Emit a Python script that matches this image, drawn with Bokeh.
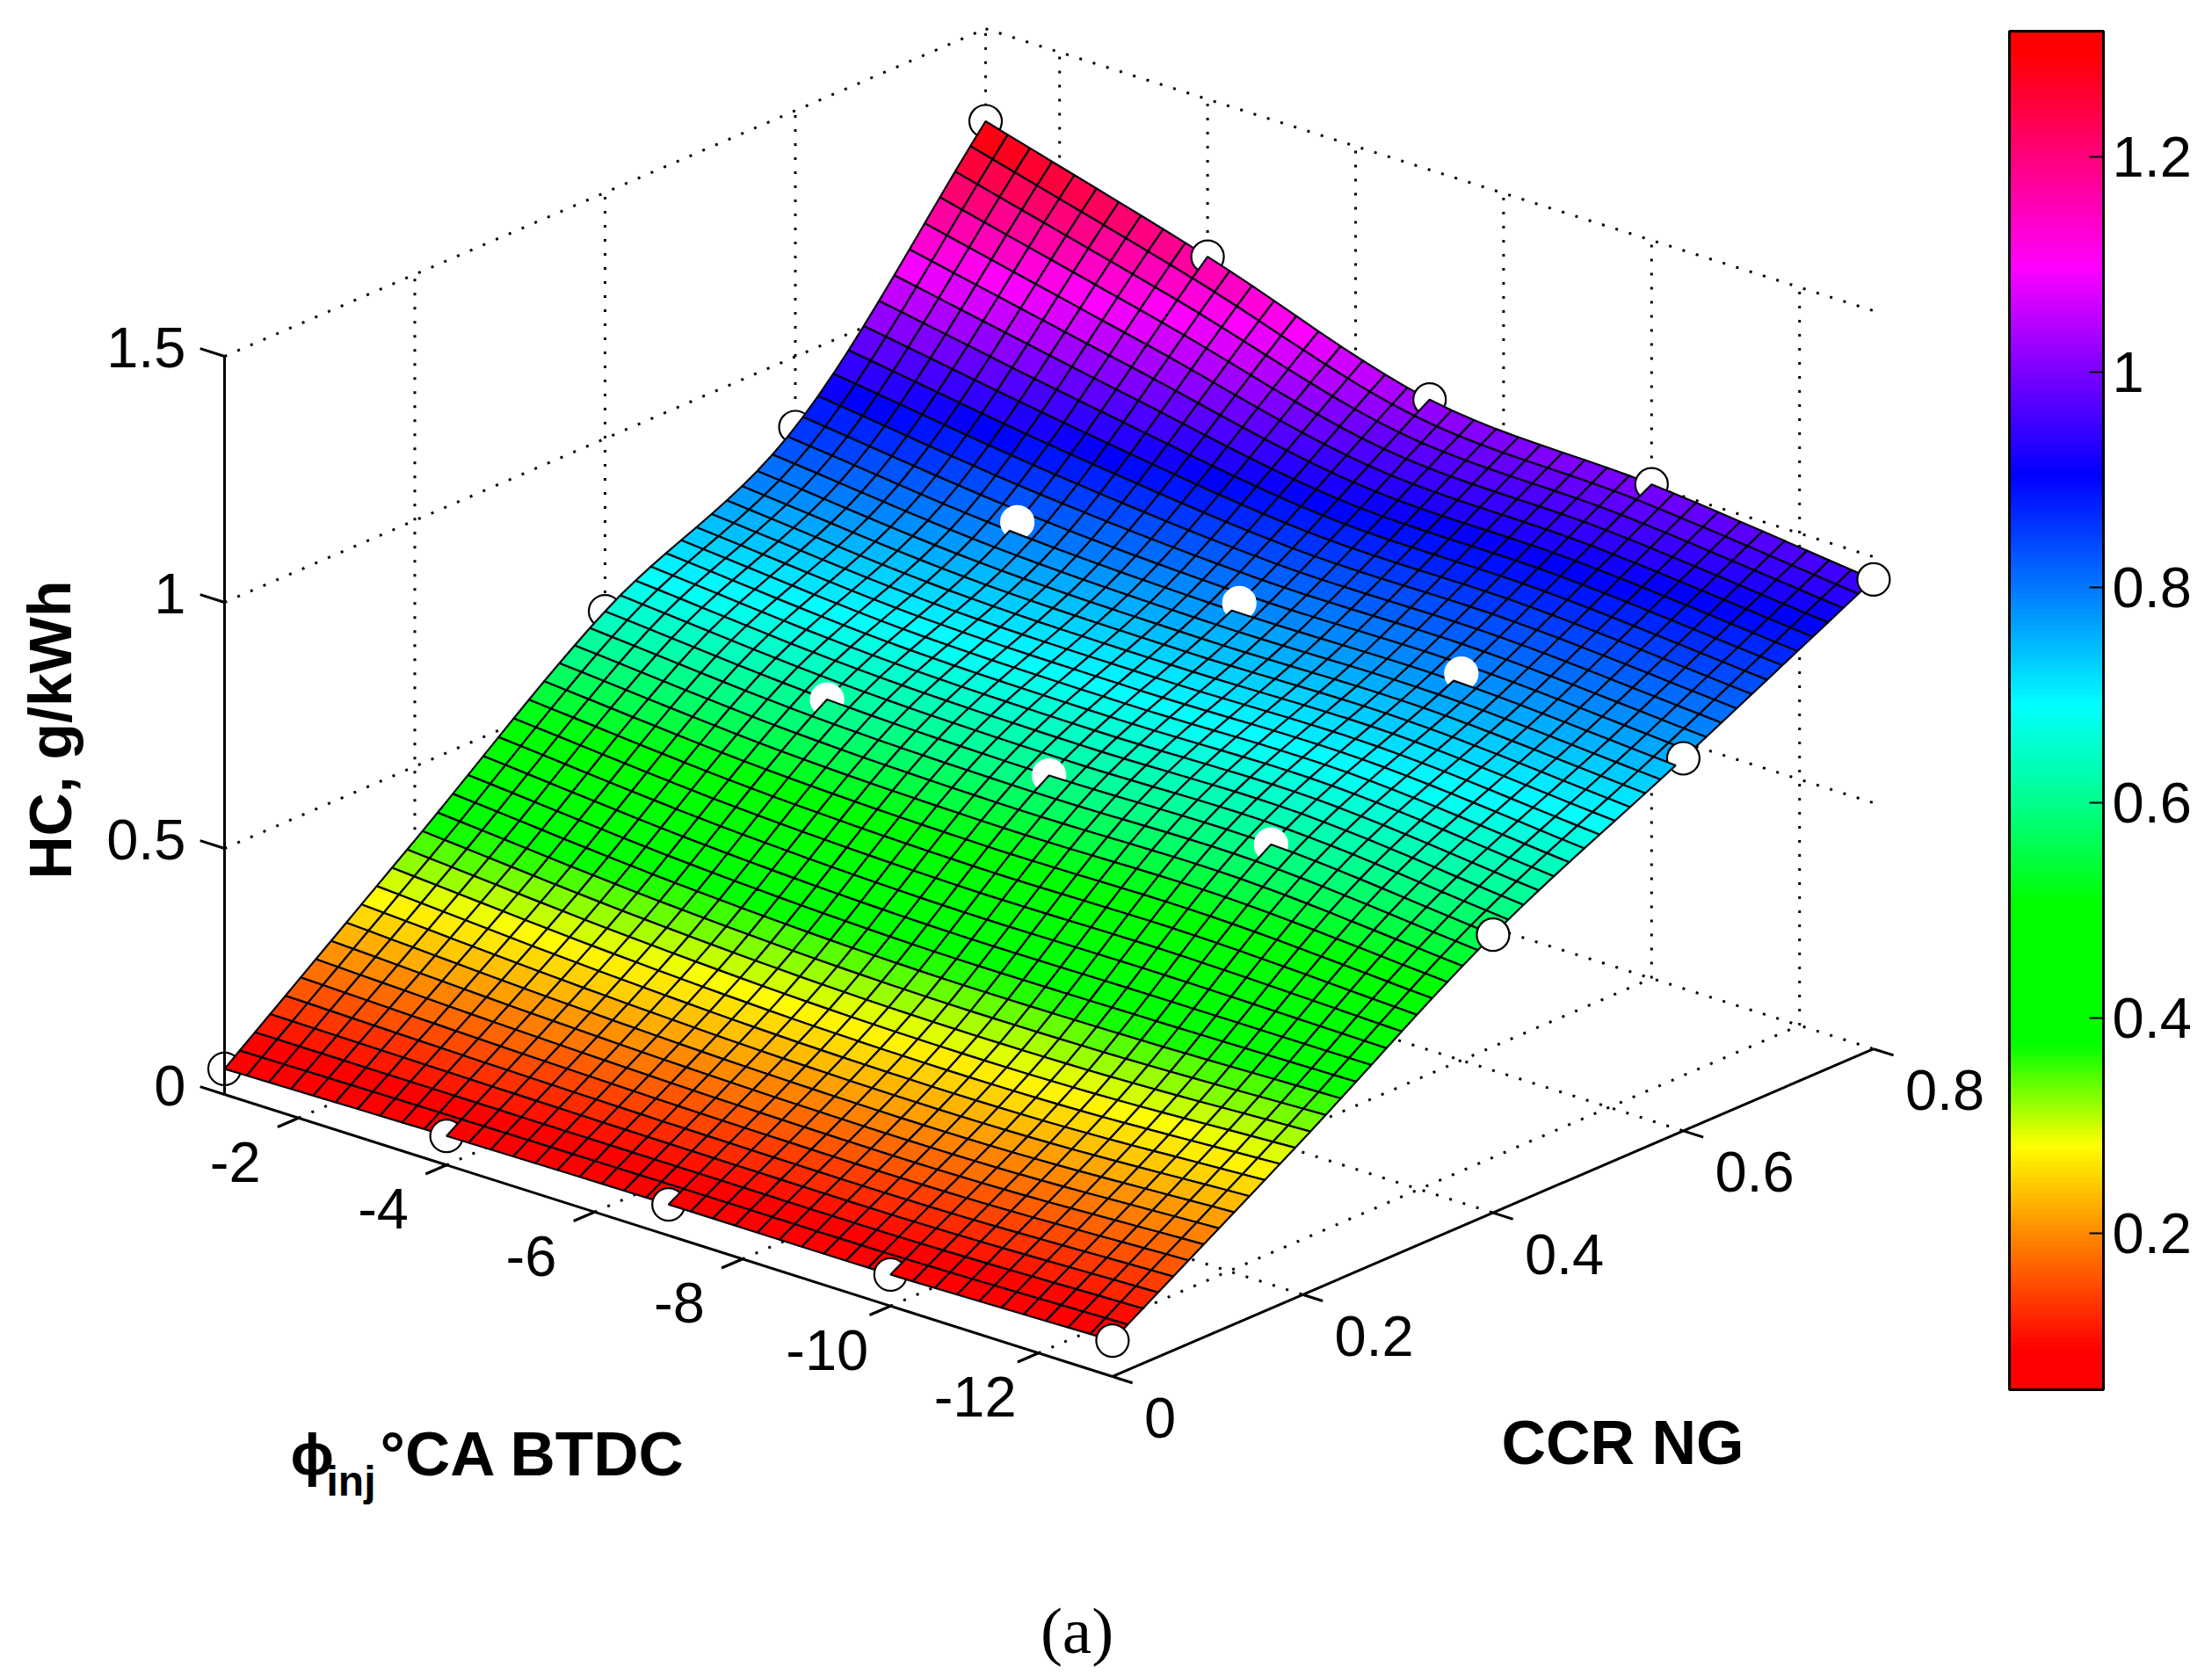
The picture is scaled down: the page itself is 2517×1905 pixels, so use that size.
import numpy as np
from bokeh.core.properties import value
from bokeh.embed import file_html
from bokeh.models import ColorBar, ColumnDataSource, FixedTicker, LinearColorMapper, Range1d
from bokeh.plotting import figure
from bokeh.resources import INLINE
from bokeh.transform import transform

# ---- data ----
phi_inj = [-1, -4, -7, -10, -13]
ccr_ng = [0.0, 0.2, 0.4, 0.6, 0.8]
hc_ccr00 = [0.052, 0.059, 0.063, 0.064, 0.073]
hc_ccr02 = [0.350, 0.315, 0.295, 0.295, 0.315]   # row hidden under the surface
hc_ccr04 = [0.649, 0.613, 0.602, 0.605, 0.565]
hc_ccr06 = [0.857, 0.807, 0.786, 0.786, 0.757]
hc_ccr08 = [1.312, 1.180, 1.033, 1.004, 0.954]
marker_ccr_rows = [0, 2, 3, 4]

phi_ticks = [-2, -4, -6, -8, -10, -12]
ccr_ticks = [0, 0.2, 0.4, 0.6, 0.8]
hc_ticks = [0, 0.5, 1, 1.5]
cbar_ticks = [0.2, 0.4, 0.6, 0.8, 1, 1.2]
cbar_low, cbar_high = 0.055, 1.317

cmap_values = [0.055, 0.09, 0.20, 0.28, 0.375, 0.505, 0.60, 0.692, 0.80, 0.905, 1.00, 1.10, 1.20, 1.30, 1.317]
cmap_r = [255, 255, 255, 255, 0, 0, 0, 0, 0, 0, 120, 255, 255, 255, 255]
cmap_g = [0, 0, 140, 255, 255, 255, 255, 255, 120, 0, 0, 0, 0, 0, 0]
cmap_b = [0, 0, 0, 0, 0, 0, 140, 255, 255, 255, 255, 255, 128, 0, 0]

MESH_PHI, MESH_CCR = 40, 50
FONT = value("Liberation Sans")
W, H = 2509, 1900

# ---- oblique view of the MATLAB axes box, in page pixels ----
def proj(phi, ccr, z=0.0):
    phi, ccr, z = np.asarray(phi, float), np.asarray(ccr, float), np.asarray(z, float)
    sx = 255 + (-1 - phi) * 84.2 + ccr * 1082.5
    sy = 1245 + (-1 - phi) * 26.75 - ccr * 466.0 - z * 560.0
    return sx, sy

def depth(phi, ccr, z):
    _, floor = proj(phi, ccr, 0.0)
    return floor + 560.0 * np.asarray(z, float) / 3.0

# ---- smooth surface through the read values (Catmull-Rom both ways) ----
def catmull(knots, vals, q):
    k = np.asarray(knots, float)
    v = np.asarray(vals, float)
    m = np.gradient(v, k)
    idx = np.clip(np.searchsorted(k, q, side="right") - 1, 0, len(k) - 2)
    h = k[idx + 1] - k[idx]
    t = (q - k[idx]) / h
    return ((2*t**3 - 3*t**2 + 1) * v[idx] + (t**3 - 2*t**2 + t) * h * m[idx]
            + (-2*t**3 + 3*t**2) * v[idx + 1] + (t**3 - t**2) * h * m[idx + 1])

hc = np.array([hc_ccr00, hc_ccr02, hc_ccr04, hc_ccr06, hc_ccr08])
phi_axis = -np.array(phi_inj, float)
phi_q = np.linspace(1, 13, MESH_PHI + 1)
ccr_q = np.linspace(0, 0.8, MESH_CCR + 1)
along_phi = np.array([catmull(phi_axis, row, phi_q) for row in hc])
Z = np.array([catmull(ccr_ng, along_phi[:, j], ccr_q) for j in range(MESH_PHI + 1)]).T
PH, CC = np.meshgrid(-phi_q, ccr_q)
SX, SY = proj(PH, CC, Z)

cell_x, cell_y, cell_z, cell_d = [], [], [], []
for r in range(MESH_CCR):
    for c in range(MESH_PHI):
        ri = [r, r, r + 1, r + 1]
        ci = [c, c + 1, c + 1, c]
        cell_x.append(SX[ri, ci].tolist())
        cell_y.append(SY[ri, ci].tolist())
        cell_z.append(float(Z[ri, ci].mean()))
        cell_d.append(float(depth(PH[ri, ci].mean(), CC[ri, ci].mean(), Z[ri, ci].mean())))
order = np.argsort(cell_d)
cell_d = np.array(cell_d)[order]
cell_x = [cell_x[i] for i in order]
cell_y = [cell_y[i] for i in order]
cell_z = [cell_z[i] for i in order]

palette = []
for t in np.linspace(cbar_low, cbar_high, 256):
    palette.append("#%02x%02x%02x" % (int(np.interp(t, cmap_values, cmap_r)),
                                      int(np.interp(t, cmap_values, cmap_g)),
                                      int(np.interp(t, cmap_values, cmap_b))))
mapper = LinearColorMapper(palette=palette, low=cbar_low, high=cbar_high)

p = figure(width=W, height=H, x_range=Range1d(0, W), y_range=Range1d(H, 0),
           output_backend="svg", toolbar_location=None, min_border=0)
p.axis.visible = False
p.grid.visible = False
p.outline_line_color = None

# ---- dotted box grid ----
DOT = dict(line_color="black", line_width=3, line_dash="3 13")
def seg(a0, a1, **kw):
    x0, y0 = proj(*a0)
    x1, y1 = proj(*a1)
    p.segment(x0.tolist(), y0.tolist(), x1.tolist(), y1.tolist(), **kw)

t_h = np.array(hc_ticks, float)
t_p = np.array(phi_ticks, float)
t_c = np.array(ccr_ticks, float)
t_c1 = t_c[1:]
seg((np.full(3, -1.0), np.zeros(3), t_h[1:]), (np.full(3, -1.0), np.full(3, .8), t_h[1:]), **DOT)
seg((np.full(3, -1.0), np.full(3, .8), t_h[1:]), (np.full(3, -13.0), np.full(3, .8), t_h[1:]), **DOT)
seg((np.full(4, -1.0), t_c1, np.zeros(4)), (np.full(4, -1.0), t_c1, np.full(4, 1.5)), **DOT)
seg((t_p, np.full(6, .8), np.zeros(6)), (t_p, np.full(6, .8), np.full(6, 1.5)), **DOT)
seg((t_p, np.zeros(6), np.zeros(6)), (t_p, np.full(6, .8), np.zeros(6)), **DOT)
seg((np.full(4, -1.0), t_c1, np.zeros(4)), (np.full(4, -13.0), t_c1, np.zeros(4)), **DOT)

# ---- surface and markers, painted from back to front ----
mk_phi, mk_ccr, mk_z, mk_inner = [], [], [], []
for r in marker_ccr_rows:
    for c, ph in enumerate(phi_inj):
        mk_phi.append(ph)
        mk_ccr.append(ccr_ng[r])
        mk_z.append(float(hc[r, c]))
        mk_inner.append(r in (2, 3) and 0 < c < 4)
mk_d = depth(mk_phi, mk_ccr, mk_z) + np.array([4.0 if m else 0.0 for m in mk_inner])
mk_sx, mk_sy = proj(mk_phi, mk_ccr, mk_z)
mk_order = np.argsort(mk_d)

def draw_cells(i0, i1):
    if i1 <= i0:
        return
    src = ColumnDataSource(dict(xs=cell_x[i0:i1], ys=cell_y[i0:i1], z=cell_z[i0:i1]))
    p.patches("xs", "ys", source=src, fill_color=transform("z", mapper),
              line_color="#05050f", line_width=2.2)

start = 0
for k in mk_order:
    stop = int(np.searchsorted(cell_d, mk_d[k]))
    draw_cells(start, stop)
    start = stop
    p.scatter([float(mk_sx[k])], [float(mk_sy[k])], size=37, marker="circle",
              fill_color="white", line_color="white" if mk_inner[k] else "black", line_width=2.2)
draw_cells(start, len(cell_z))

# ---- solid axes and ticks ----
AX = dict(line_color="black", line_width=3)
seg((np.array([-1.0]), np.array([0.0]), np.array([0.0])), (np.array([-1.0]), np.array([0.0]), np.array([1.5])), **AX)
seg((np.array([-1.0]), np.array([0.0]), np.array([0.0])), (np.array([-13.0]), np.array([0.0]), np.array([0.0])), **AX)
seg((np.array([-13.0]), np.array([0.0]), np.array([0.0])), (np.array([-13.0]), np.array([0.8]), np.array([0.0])), **AX)
seg((np.full(4, -1.0), np.zeros(4), t_h), (np.full(4, -0.67), np.zeros(4), t_h), **AX)
seg((t_p, np.zeros(6), np.zeros(6)), (t_p, np.full(6, -0.022), np.zeros(6)), **AX)
seg((np.full(5, -13.0), t_c, np.zeros(5)), (np.full(5, -13.27), t_c, np.zeros(5)), **AX)

# ---- tick labels ----
TICK = dict(text_font=FONT, text_font_size="65px", text_color="black")
hx, hy = proj(np.full(4, -1.0), np.zeros(4), t_h)
p.text(hx.tolist(), hy.tolist(), text=["0", "0.5", "1", "1.5"], x_offset=-44, y_offset=-10,
       text_align="right", text_baseline="middle", **TICK)
px_, py_ = proj(t_p, np.zeros(6), np.zeros(6))
p.text(px_.tolist(), py_.tolist(), text=[str(v) for v in phi_ticks], x_offset=-72, y_offset=50,
       text_align="center", text_baseline="middle", **TICK)
cx_, cy_ = proj(np.full(5, -13.0), t_c, np.zeros(5))
p.text(cx_.tolist(), cy_.tolist(), text=["0", "0.2", "0.4", "0.6", "0.8"], x_offset=36, y_offset=47,
       text_align="left", text_baseline="middle", **TICK)

# ---- axis titles ----
BOLD = dict(text_font=FONT, text_font_style="bold", text_color="black")
p.text([56], [830], text=["HC, g/kWh"], angle=[np.pi / 2], text_font_size="68px",
       text_align="center", text_baseline="middle", **BOLD)
p.text([330], [1654], text=["\u03d5"], text_font_size="66px", text_align="left", text_baseline="alphabetic", **BOLD)
p.text([371], [1685], text=["inj"], text_font_size="48px", text_align="left", text_baseline="alphabetic", **BOLD)
p.text([432], [1654], text=["\u00b0CA BTDC"], text_font_size="71px", text_align="left", text_baseline="alphabetic", **BOLD)
p.text([1846], [1641], text=["CCR NG"], text_font_size="70px", text_align="center", text_baseline="middle", **BOLD)
p.text([1225], [1855], text=["(a)"], text_font=value("Liberation Serif"), text_font_size="75px",
       text_color="black", text_align="center", text_baseline="middle")

# ---- colour bar ----
BAR_L, BAR_R, BAR_T, BAR_B = 2286, 2393, 35, 1581
bar = ColorBar(color_mapper=mapper, ticker=FixedTicker(ticks=cbar_ticks),
               width=BAR_R - BAR_L, height=BAR_B - BAR_T, padding=0, margin=0,
               location=(BAR_L, H - BAR_B),
               major_label_overrides={1: "1"},
               major_label_text_font="Liberation Sans", major_label_text_font_size="65px",
               major_label_text_color="black", label_standoff=10,
               major_tick_in=16, major_tick_out=0, major_tick_line_color="black", major_tick_line_width=2,
               minor_tick_line_color=None, bar_line_color="black", bar_line_width=3,
               background_fill_color=None, border_line_color=None)
p.add_layout(bar, "center")
cb_y = [BAR_B - (v - cbar_low) / (cbar_high - cbar_low) * (BAR_B - BAR_T) for v in cbar_ticks]
p.segment([BAR_L] * 6, cb_y, [BAR_L + 16] * 6, cb_y, line_color="black", line_width=2)

open("out.html", "w").write(file_html(p, INLINE))
